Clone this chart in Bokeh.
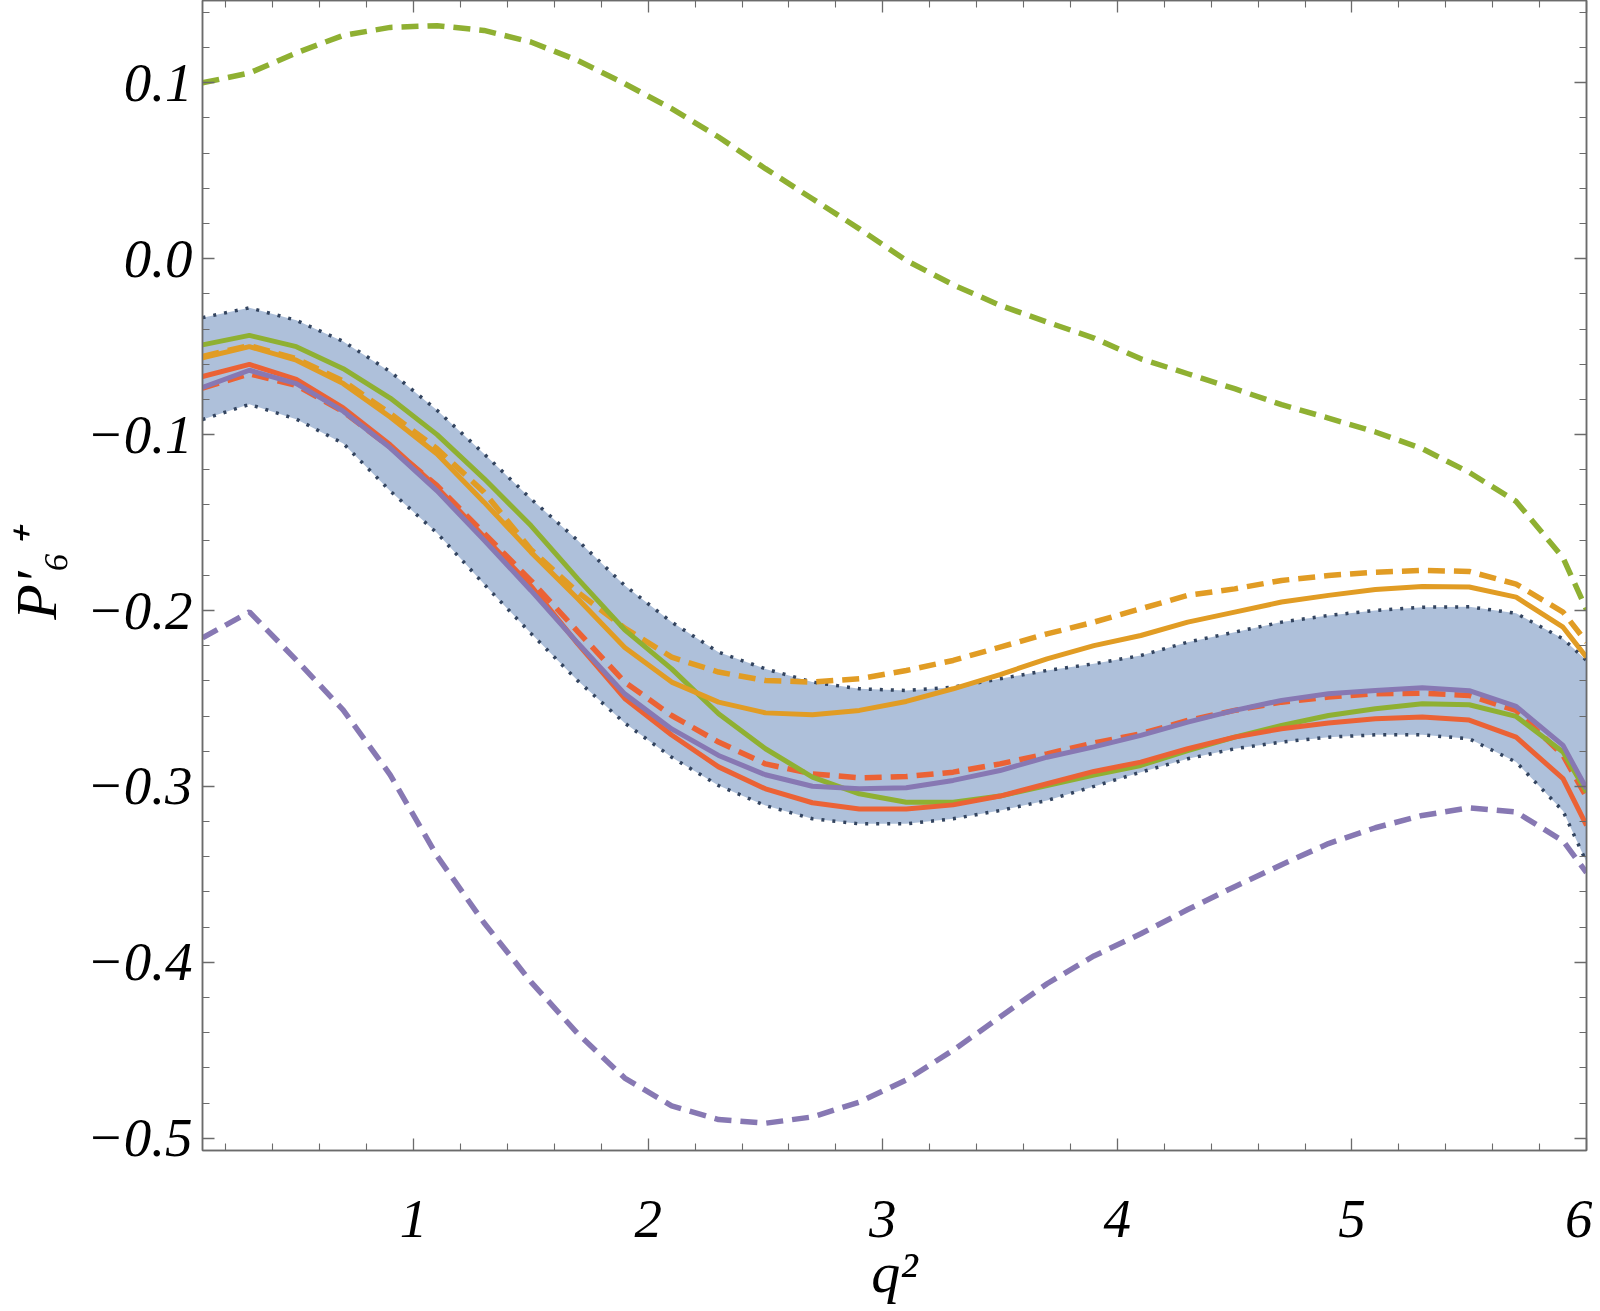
from bokeh.plotting import figure
from bokeh.models import Range1d, FixedTicker, LinearAxis
from bokeh.embed import file_html
from bokeh.resources import INLINE

# ---- data ----
q2 = [0.1, 0.3, 0.5, 0.7, 0.9, 1.1, 1.3, 1.5, 1.7, 1.9, 2.1, 2.3, 2.5, 2.7, 2.9, 3.1,
      3.3, 3.5, 3.7, 3.9, 4.1, 4.3, 4.5, 4.7, 4.9, 5.1, 5.3, 5.5, 5.7, 5.9, 6.0]

band_upper = [-0.0335, -0.0279, -0.0350, -0.0470, -0.0642, -0.0862, -0.1109, -0.1365, -0.1602, -0.1858,
              -0.2066, -0.2237, -0.2332, -0.2407, -0.2445, -0.2455, -0.2436, -0.2388, -0.2341, -0.2303,
              -0.2256, -0.2180, -0.2123, -0.2066, -0.2028, -0.2000, -0.1981, -0.1979, -0.2016, -0.2161, -0.2284]
band_lower = [-0.0914, -0.0828, -0.0912, -0.1050, -0.1320, -0.1560, -0.1850, -0.2130, -0.2400, -0.2640,
              -0.2834, -0.2995, -0.3109, -0.3184, -0.3213, -0.3213, -0.3184, -0.3137, -0.3080, -0.3000,
              -0.2919, -0.2843, -0.2786, -0.2748, -0.2720, -0.2707, -0.2707, -0.2729, -0.2862, -0.3140, -0.3430]

green_solid = [-0.0490, -0.0436, -0.0500, -0.0625, -0.0792, -0.1000, -0.1250, -0.1517, -0.1820, -0.2110,
               -0.2332, -0.2587, -0.2786, -0.2947, -0.3042, -0.3090, -0.3090, -0.3055, -0.2995, -0.2935,
               -0.2881, -0.2796, -0.2720, -0.2654, -0.2597, -0.2559, -0.2530, -0.2536, -0.2602, -0.2805, -0.3032]
orange_solid = [-0.0563, -0.0500, -0.0577, -0.0710, -0.0900, -0.1110, -0.1384, -0.1668, -0.1933, -0.2210,
                -0.2407, -0.2521, -0.2582, -0.2593, -0.2568, -0.2517, -0.2445, -0.2364, -0.2275, -0.2200,
                -0.2142, -0.2066, -0.2009, -0.1952, -0.1914, -0.1880, -0.1863, -0.1866, -0.1924, -0.2095, -0.2265]
red_solid = [-0.0670, -0.0601, -0.0686, -0.0848, -0.1058, -0.1300, -0.1580, -0.1860, -0.2190, -0.2500,
             -0.2708, -0.2889, -0.3014, -0.3093, -0.3128, -0.3128, -0.3105, -0.3055, -0.2985, -0.2915,
             -0.2862, -0.2786, -0.2720, -0.2672, -0.2640, -0.2616, -0.2606, -0.2623, -0.2720, -0.2956, -0.3222]
purple_solid = [-0.0732, -0.0634, -0.0710, -0.0867, -0.1075, -0.1320, -0.1600, -0.1886, -0.2185, -0.2474,
                -0.2673, -0.2824, -0.2934, -0.2999, -0.3014, -0.3008, -0.2966, -0.2910, -0.2834, -0.2775,
                -0.2710, -0.2635, -0.2568, -0.2511, -0.2473, -0.2455, -0.2439, -0.2456, -0.2545, -0.2767, -0.3013]

green_dashed = [0.1000, 0.1056, 0.1170, 0.1270, 0.1315, 0.1325, 0.1298, 0.1232, 0.1127, 0.0995,
                0.0853, 0.0692, 0.0512, 0.0341, 0.0170, -0.0010, -0.0148, -0.0265, -0.0360, -0.0451,
                -0.0569, -0.0654, -0.0739, -0.0830, -0.0906, -0.0985, -0.1080, -0.1215, -0.1380, -0.1700, -0.1995]
orange_dashed = [-0.0555, -0.0494, -0.0568, -0.0695, -0.0880, -0.1080, -0.1327, -0.1653, -0.1896, -0.2100,
                 -0.2265, -0.2350, -0.2398, -0.2407, -0.2388, -0.2341, -0.2284, -0.2208, -0.2133, -0.2066,
                 -0.1990, -0.1914, -0.1877, -0.1829, -0.1801, -0.1782, -0.1772, -0.1778, -0.1850, -0.2009, -0.2180]
red_dashed = [-0.0736, -0.0655, -0.0720, -0.0870, -0.1070, -0.1290, -0.1560, -0.1830, -0.2120, -0.2407,
              -0.2597, -0.2748, -0.2872, -0.2929, -0.2951, -0.2944, -0.2919, -0.2872, -0.2815, -0.2753,
              -0.2701, -0.2625, -0.2568, -0.2521, -0.2492, -0.2473, -0.2470, -0.2483, -0.2568, -0.2824, -0.3061]
purple_dashed = [-0.2156, -0.2008, -0.2282, -0.2566, -0.2934, -0.3396, -0.3775, -0.4111, -0.4406, -0.4658,
                 -0.4816, -0.4894, -0.4915, -0.4879, -0.4795, -0.4669, -0.4500, -0.4311, -0.4122, -0.3964,
                 -0.3838, -0.3700, -0.3570, -0.3445, -0.3325, -0.3235, -0.3165, -0.3122, -0.3146, -0.3310, -0.3490]

x_major = [1, 2, 3, 4, 5, 6]
x_minor = [0.2, 0.4, 0.6, 0.8, 1.2, 1.4, 1.6, 1.8, 2.2, 2.4, 2.6, 2.8, 3.2, 3.4, 3.6, 3.8,
           4.2, 4.4, 4.6, 4.8, 5.2, 5.4, 5.6, 5.8]
x_labels = ["1", "2", "3", "4", "5", "6"]
y_major = [-0.5, -0.4, -0.3, -0.2, -0.1, 0.0, 0.1]
y_minor = [-0.48, -0.46, -0.44, -0.42, -0.38, -0.36, -0.34, -0.32, -0.28, -0.26, -0.24, -0.22,
           -0.18, -0.16, -0.14, -0.12, -0.08, -0.06, -0.04, -0.02, 0.02, 0.04, 0.06, 0.08, 0.12, 0.14]
y_labels = ["\u22120.5", "\u22120.4", "\u22120.3", "\u22120.2", "\u22120.1", "0.0", "0.1"]

# ---- colours ----
C_GREEN = "#8FB032"
C_ORANGE = "#E19C24"
C_RED = "#EB6235"
C_PURPLE = "#8778B3"
C_BAND = "#5E81B5"
C_EDGE = "#33445f"
C_FRAME = "#6b6b6b"

FONT = "Liberation Serif"

p = figure(frame_width=1384, frame_height=1150,
           x_range=Range1d(0.1, 6.0), y_range=Range1d(-0.5070, 0.1468),
           output_backend="svg", toolbar_location=None,
           min_border_left=0, min_border_right=6, min_border_top=0, min_border_bottom=0,
           background_fill_color="white", border_fill_color="white")
p.grid.visible = False
p.outline_line_color = C_FRAME
p.outline_line_width = 1.5

# band
p.varea(x=q2, y1=band_lower, y2=band_upper, fill_color=C_BAND, fill_alpha=0.5)
p.line(q2, band_upper, line_color=C_EDGE, line_width=3.5, line_dash="3 8")
p.line(q2, band_lower, line_color=C_EDGE, line_width=3.5, line_dash="3 8")

# dashed curves
DASH = "17 9"
DW = 5.5
p.line(q2, green_dashed, line_color=C_GREEN, line_width=DW, line_dash=DASH)
p.line(q2, orange_dashed, line_color=C_ORANGE, line_width=DW, line_dash=DASH)
p.line(q2, red_dashed, line_color=C_RED, line_width=DW, line_dash=DASH)
p.line(q2, purple_dashed, line_color=C_PURPLE, line_width=DW, line_dash=DASH)

# solid curves
SW = 5
p.line(q2, green_solid, line_color=C_GREEN, line_width=SW)
p.line(q2, orange_solid, line_color=C_ORANGE, line_width=SW)
p.line(q2, red_solid, line_color=C_RED, line_width=SW)
p.line(q2, purple_solid, line_color=C_PURPLE, line_width=SW)


def style_axis(ax):
    ax.axis_line_color = C_FRAME
    ax.axis_line_width = 1.5
    ax.major_tick_line_color = C_FRAME
    ax.minor_tick_line_color = C_FRAME
    ax.major_tick_line_width = 1.3
    ax.minor_tick_line_width = 1.1
    ax.major_tick_in = 12
    ax.major_tick_out = 0
    ax.minor_tick_in = 7
    ax.minor_tick_out = 0
    ax.major_label_text_font = FONT
    ax.major_label_text_font_style = "italic"
    ax.major_label_text_color = "black"


xt = FixedTicker(ticks=x_major, minor_ticks=x_minor)
yt = FixedTicker(ticks=y_major, minor_ticks=y_minor)

xa = p.xaxis[0]
xa.ticker = xt
style_axis(xa)
xa.major_label_overrides = {t: s for t, s in zip(x_major, x_labels)}
xa.major_label_text_font_size = "55px"
xa.major_label_standoff = 50
xa.axis_label = "q\u00b2"
xa.axis_label_text_font = FONT
xa.axis_label_text_font_style = "italic"
xa.axis_label_text_font_size = "58px"
xa.axis_label_text_color = "black"
xa.axis_label_standoff = 0

ya = p.yaxis[0]
ya.ticker = yt
style_axis(ya)
ya.major_label_overrides = {t: s for t, s in zip(y_major, y_labels)}
ya.major_label_text_font_size = "55px"
ya.major_label_standoff = 10
ya.axis_label = "P\u2032\u2086\u207a"
ya.axis_label_text_font = FONT
ya.axis_label_text_font_style = "italic"
ya.axis_label_text_font_size = "58px"
ya.axis_label_text_color = "black"
ya.axis_label_standoff = 15

top = LinearAxis(ticker=FixedTicker(ticks=x_major, minor_ticks=x_minor))
style_axis(top)
top.major_label_overrides = {t: "" for t in x_major}
top.major_label_text_font_size = "0px"
top.major_label_standoff = 0
p.add_layout(top, "above")

right = LinearAxis(ticker=FixedTicker(ticks=y_major, minor_ticks=y_minor))
style_axis(right)
right.major_label_overrides = {t: "" for t in y_major}
right.major_label_text_font_size = "0px"
right.major_label_standoff = 0
p.add_layout(right, "right")

open("out.html", "w").write(file_html(p, INLINE))
